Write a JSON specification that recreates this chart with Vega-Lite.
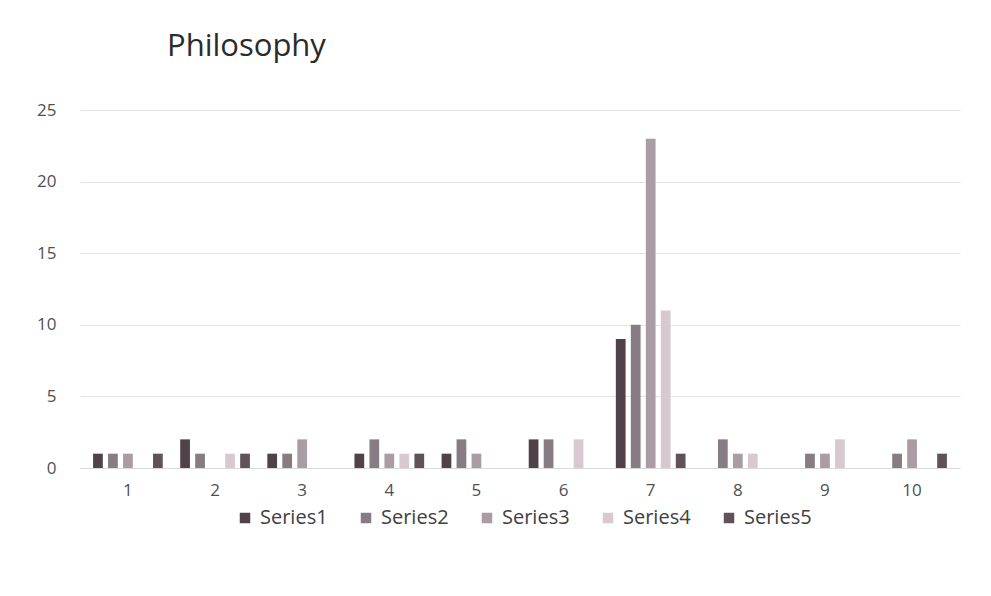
{
  "$schema": "https://vega.github.io/schema/vega-lite/v6.json",
  "autosize": "none",
  "width": 880,
  "height": 358,
  "padding": {"left": 80, "top": 110, "right": 31, "bottom": 128},
  "background": "white",
  "config": {
    "font": "Open Sans",
    "view": {"stroke": null}
  },
  "title": {
    "text": "Philosophy",
    "anchor": "start",
    "frame": "group",
    "dx": 87,
    "offset": 38,
    "fontSize": 31,
    "fontWeight": "normal",
    "color": "#2b2b2b",
    "font": "Open Sans"
  },
  "data": {
    "values": [
      {"group": "1", "series": "Series1", "value": 1},
      {"group": "1", "series": "Series2", "value": 1},
      {"group": "1", "series": "Series3", "value": 1},
      {"group": "1", "series": "Series5", "value": 1},
      {"group": "2", "series": "Series1", "value": 2},
      {"group": "2", "series": "Series2", "value": 1},
      {"group": "2", "series": "Series4", "value": 1},
      {"group": "2", "series": "Series5", "value": 1},
      {"group": "3", "series": "Series1", "value": 1},
      {"group": "3", "series": "Series2", "value": 1},
      {"group": "3", "series": "Series3", "value": 2},
      {"group": "4", "series": "Series1", "value": 1},
      {"group": "4", "series": "Series2", "value": 2},
      {"group": "4", "series": "Series3", "value": 1},
      {"group": "4", "series": "Series4", "value": 1},
      {"group": "4", "series": "Series5", "value": 1},
      {"group": "5", "series": "Series1", "value": 1},
      {"group": "5", "series": "Series2", "value": 2},
      {"group": "5", "series": "Series3", "value": 1},
      {"group": "6", "series": "Series1", "value": 2},
      {"group": "6", "series": "Series2", "value": 2},
      {"group": "6", "series": "Series4", "value": 2},
      {"group": "7", "series": "Series1", "value": 9},
      {"group": "7", "series": "Series2", "value": 10},
      {"group": "7", "series": "Series3", "value": 23},
      {"group": "7", "series": "Series4", "value": 11},
      {"group": "7", "series": "Series5", "value": 1},
      {"group": "8", "series": "Series2", "value": 2},
      {"group": "8", "series": "Series3", "value": 1},
      {"group": "8", "series": "Series4", "value": 1},
      {"group": "9", "series": "Series2", "value": 1},
      {"group": "9", "series": "Series3", "value": 1},
      {"group": "9", "series": "Series4", "value": 2},
      {"group": "10", "series": "Series2", "value": 1},
      {"group": "10", "series": "Series3", "value": 2},
      {"group": "10", "series": "Series5", "value": 1}
    ]
  },
  "mark": {"type": "bar"},
  "encoding": {
    "x": {
      "field": "group",
      "type": "nominal",
      "sort": ["1", "2", "3", "4", "5", "6", "7", "8", "9", "10"],
      "scale": {"paddingInner": 0.2, "paddingOuter": 0.15},
      "axis": {
        "title": null,
        "labelAngle": 0,
        "ticks": false,
        "domain": true,
        "domainColor": "#d9d9d9",
        "labelPadding": 14,
        "labelFontSize": 17,
        "labelColor": "#505050",
        "grid": false
      }
    },
    "xOffset": {
      "field": "series",
      "type": "nominal",
      "scale": {"domain": ["Series1", "Series2", "Series3", "Series4", "Series5"], "paddingInner": 0.35}
    },
    "y": {
      "field": "value",
      "type": "quantitative",
      "scale": {"domain": [0, 25], "nice": false},
      "axis": {
        "title": null,
        "values": [0, 5, 10, 15, 20, 25],
        "ticks": false,
        "domain": false,
        "grid": true,
        "gridColor": "#e3e3e3",
        "labelPadding": 24,
        "labelFontSize": 17,
        "labelColor": "#505050"
      }
    },
    "color": {
      "field": "series",
      "type": "nominal",
      "scale": {
        "domain": ["Series1", "Series2", "Series3", "Series4", "Series5"],
        "range": ["#4f4349", "#877c84", "#a99ca5", "#d8c9d1", "#5f5359"]
      },
      "legend": {
        "title": null,
        "orient": "none",
        "legendX": 155,
        "legendY": 398,
        "direction": "horizontal",
        "columns": 5,
        "symbolType": "square",
        "symbolSize": 110,
        "symbolStrokeWidth": 0,
        "labelFontSize": 20,
        "labelColor": "#404040",
        "labelOffset": 5,
        "columnPadding": 28
      }
    }
  }
}
